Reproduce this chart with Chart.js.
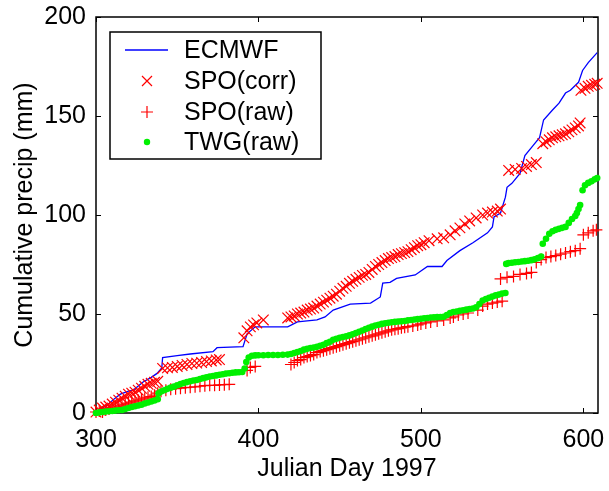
<!DOCTYPE html>
<html>
<head>
<meta charset="utf-8">
<script src="https://cdn.jsdelivr.net/npm/chart.js@4"></script>
<style>
  body { margin: 0; background: #fff; }
  canvas { display: block; }
</style>
</head>
<body>
<canvas id="grafico" width="609" height="491"></canvas>
<script>
const xTicks = [300, 400, 500, 600];
const yTicks = [0, 50, 100, 150, 200];
const seriesNames = ["ECMWF", "SPO(corr)", "SPO(raw)", "TWG(raw)"];

// [julian day, cumulative mm]
const ecmwf = [
  [300,0],[303,2],[307,4],[311,7],[315,9.5],[320,11],[323,11.6],[329,15.7],[334,18],[337.6,20],
  [340.5,22.7],[341,28],[350,29],[358,29.8],[372,31],[374.5,33],[390.5,33.5],[393,40],[398,43.5],
  [418,43.5],[424,46],[436,47],[441,48.5],[446,52],[456.5,55],[469,55.5],[475,58.6],[476.5,65.6],
  [481,66],[485,68],[496.5,69.7],[504,74],[513,74],[516,77],[524,82],[532,86],[541,91],[544,94],
  [545,99],[549,101],[552,109],[553,114],[556,116],[561,121],[564,130],[569,135],[573,139],
  [575.5,148],[581,153],[585,156.5],[589,161.6],[592,163],[597,167],[599.5,173],[603,177],[608.5,182]
];

const spoCorr = [
  [300,0.5],[302,1.5],[304,2.5],[306,3],[308,3.5],[310,4.5],[312,5.5],[314,6.5],[316,7.5],[318,8.5],
  [320,9.5],[322,10],[324,10.5],[326,11.5],[328,12.5],[330,13.5],[332,14.5],[334,15],[336,15.5],[338,16],
  [341,22.5],[344,22.8],[347,23],[350,23.5],[353,24],[356,24.5],[359,25],[362,25.2],[365,25.5],[368,26],
  [371,26.3],[374,26.8],[376,27],[391,38],[393,41.5],[395,43.5],[397,44.5],[399,45.5],[403,47],
  [418,48],[420,48.5],[422,49],[424,50],[426,50.5],[428,51],[430,52],[432,52.5],[434,53],[436,54],
  [438,55],[440,56],[442,57],[444,58],[446,59],[448,60],[450,61.5],[452,63],[454,64],[456,65.5],
  [458,66.5],[460,67.5],[462,68.5],[464,69.5],[466,70],[468,71],[470,72.5],[472,74],[474,75],[476,76],
  [478,77],[480,78],[482,78.5],[484,79],[486,80],[488,80.5],[490,81],[492,81.5],[494,82.5],[496,83.5],
  [498,84.5],[500,85],[502,86],[505,87],[510,88],[514,88.5],[518,90],[521,92],[524,93.5],[527,95.5],
  [530,97],[534,98.5],[538,100],[541,101],[544,101.5],[547,102],[549,103],[554,122.5],[558,123],
  [562,123.5],[565,124.5],[568,125.5],[571,126.5],[575,136],[577,137],[579,138],[581,139],[583,139.5],
  [585,140],[587,140.5],[589,141],[591,142],[593,143],[595,144],[597,145],[598,146.5],[598.5,163],
  [601,164],[603,165],[605,165.5],[607,166],[608.5,166.5]
];

const spoRaw = [
  [300,0.5],[302,1],[304,0.5],[306,1.5],[308,2],[310,2.5],[312,3],[314,3.5],[316,4],[318,4.5],
  [320,5],[322,5.5],[324,6],[326,6.5],[328,7],[330,7.5],[332,8],[334,8.3],[336,9],[338,10],
  [340,11],[343,11.5],[346,12],[349,12.3],[352,12.5],[355,12.8],[358,13],[361,13.2],[364,13.5],[367,13.8],
  [370,14],[373,14],[376,14.2],[379,14.3],[382,14.5],[393,21.5],[395,23],[398,23.5],[420,24.5],[422,25.5],
  [424,26.5],[426,27],[428,28],[430,28.5],[432,29],[434,29.5],[436,30.5],[438,31],[440,31.5],[442,32],
  [444,32.5],[446,33],[448,33.5],[450,34],[452,34.5],[454,35],[456,35.5],[458,36],[460,36.5],[462,37],
  [464,37.5],[466,38],[468,38.5],[470,39],[472,39.5],[474,40],[476,40.5],[478,41],[480,41.5],[482,42],
  [484,42.3],[486,42.6],[488,43],[490,43.3],[492,43.6],[495,44],[498,44.5],[500,45],[503,45.5],[506,46],
  [510,46.5],[514,47],[518,48],[520,48.5],[523,49.5],[526,50],[529,50.5],[535,52],[538,54],[541,55],
  [544,55.5],[547,56],[550,56.5],[549,67.7],[553,68.5],[557,69],[561,70],[565,70.5],[568,71],[571,76],
  [574,77.5],[577,78.5],[580,79],[583,79.5],[586,80.2],[589,80.8],[592,81.5],[595,82],[598,83],[600,90],
  [603,91],[606,92],[608,92.5]
];

const twgRaw = [
  [300,0],[302,0.3],[304,0.5],[306,0.7],[308,0.9],[310,1],[312,1.2],[314,1.4],[316,1.5],[318,2],
  [320,2.5],[322,3],[324,3.4],[326,3.8],[328,4.2],[330,4.8],[332,5.3],[334,5.8],[336,6.3],[338,7],
  [338.5,10],[340,10.8],[342,11.5],[344,12.2],[346,12.8],[348,13.3],[350,14],[352,14.6],[354,15.1],[356,15.6],
  [358,16],[360,16.4],[362,16.7],[364,17.2],[366,17.6],[368,18],[370,18.4],[372,18.7],[374,19],[376,19.3],
  [378,19.6],[380,19.9],[382,20.1],[384,20.3],[386,20.5],[388,20.6],[390,20.7],[391.5,22.5],[392.5,25.7],[394,28],
  [396,28.9],[398,29.1],[400,29.2],[403,29.2],[406,29.3],[409,29.3],[412,29.3],[415,29.4],[418,29.5],[420,29.8],
  [422,30.3],[424,30.8],[426,31.3],[428,32],[430,32.4],[432,32.8],[434,33.1],[436,33.4],[438,34],[440,34.5],
  [442,35.3],[444,36],[446,37],[448,37.5],[450,38],[452,38.4],[454,38.8],[456,39.2],[458,39.8],[460,40.4],
  [462,41],[464,41.7],[466,42.4],[468,43],[470,43.6],[472,44.2],[474,44.6],[476,45],[478,45.3],[480,45.6],
  [482,45.8],[484,46],[486,46.2],[488,46.3],[490,46.5],[492,46.8],[494,47],[496,47.2],[498,47.4],[500,47.6],
  [502,47.8],[504,48],[506,48.2],[508,48.3],[510,48.4],[512,48.5],[514,48.6],[516,49.5],[518,50.5],[520,51],
  [522,51.3],[524,51.6],[526,51.9],[528,52.2],[530,52.5],[532,52.8],[534,53.4],[536,55],[538,56.8],[540,57.6],
  [542,58.2],[544,58.8],[546,59.4],[548,59.8],[550,60.3],[552,60.6],[552.5,75.3],[554,75.7],[556,75.9],[558,76.1],
  [560,76.3],[562,76.5],[564,76.7],[566,76.9],[568,77.2],[570,77.6],[572,78.2],[574,79],[575,85.5],[577,88],
  [579,90.5],[581,91.8],[583,92.5],[585,93],[587,93.5],[589,94],[591,96],[593,98],[595,99.5],[596,101],
  [597,103],[598,105],[599.5,112.5],[601,115],[603,116.2],[605,117],[607,118],[608.5,118.7]
];

const fonte = "'Liberation Sans', Arial, Helvetica, sans-serif";
const verde = "#00f000";

function pontos(lista) {
  return lista.map(p => ({ x: p[0], y: p[1] }));
}

function semPadding(s) {
  s.paddingTop = 0;
  s.paddingBottom = 0;
  s.paddingLeft = 0;
  s.paddingRight = 0;
}

const molduraPlugin = {
  id: "moldura",
  beforeDatasetsDraw(chart) {
    const c = chart.ctx;
    const a = chart.chartArea;
    const sx = chart.scales.x;
    const sy = chart.scales.y;
    c.save();
    c.strokeStyle = "#000";
    c.lineWidth = 1.5;
    c.strokeRect(a.left, a.top, a.right - a.left, a.bottom - a.top);
    c.lineWidth = 1;
    c.beginPath();
    xTicks.forEach(v => {
      const px = Math.round(sx.getPixelForValue(v)) + 0.5;
      c.moveTo(px, a.bottom); c.lineTo(px, a.bottom - 5);
      c.moveTo(px, a.top); c.lineTo(px, a.top + 5);
    });
    yTicks.forEach(v => {
      const py = Math.round(sy.getPixelForValue(v)) + 0.5;
      c.moveTo(a.left, py); c.lineTo(a.left + 5, py);
      c.moveTo(a.right, py); c.lineTo(a.right - 5, py);
    });
    c.stroke();
    c.restore();
  },
  afterDraw(chart) {
    const c = chart.ctx;
    c.save();
    c.fillStyle = "#fff";
    c.fillRect(110, 32, 211, 127);
    c.strokeStyle = "#000";
    c.lineWidth = 1.5;
    c.strokeRect(110, 32, 211, 127);

    const linhas = [50, 81, 112, 142];
    const mx = 147;
    c.strokeStyle = "#0000ff";
    c.lineWidth = 1.3;
    c.beginPath(); c.moveTo(125, linhas[0]); c.lineTo(168, linhas[0]); c.stroke();

    c.strokeStyle = "#ff0000";
    c.lineWidth = 1.2;
    c.beginPath();
    c.moveTo(mx - 5, linhas[1] - 5); c.lineTo(mx + 5, linhas[1] + 5);
    c.moveTo(mx + 5, linhas[1] - 5); c.lineTo(mx - 5, linhas[1] + 5);
    c.moveTo(mx - 6, linhas[2]); c.lineTo(mx + 6, linhas[2]);
    c.moveTo(mx, linhas[2] - 6); c.lineTo(mx, linhas[2] + 6);
    c.stroke();

    c.fillStyle = verde;
    c.beginPath(); c.arc(mx, linhas[3], 3.2, 0, Math.PI * 2); c.fill();

    c.fillStyle = "#000";
    c.font = "25px " + fonte;
    c.textBaseline = "middle";
    c.textAlign = "left";
    seriesNames.forEach((n, i) => c.fillText(n, 184, linhas[i] + 1));
    c.restore();
  }
};

new Chart(document.getElementById("grafico").getContext("2d"), {
  type: "scatter",
  data: {
    datasets: [
      {
        label: seriesNames[3], data: pontos(twgRaw), order: 0, clip: false,
        pointStyle: "circle", pointRadius: 3.3, pointBorderWidth: 0,
        backgroundColor: verde, borderColor: verde
      },
      {
        label: seriesNames[2], data: pontos(spoRaw), order: 1, clip: false,
        pointStyle: "cross", pointRadius: 6, pointBorderWidth: 1.2,
        borderColor: "#ff0000", backgroundColor: "#ff0000"
      },
      {
        label: seriesNames[1], data: pontos(spoCorr), order: 2, clip: false,
        pointStyle: "crossRot", pointRadius: 7.5, pointBorderWidth: 1.2,
        borderColor: "#ff0000", backgroundColor: "#ff0000"
      },
      {
        label: seriesNames[0], data: pontos(ecmwf), order: 3, showLine: true,
        pointRadius: 0, borderWidth: 1.3, borderColor: "#0000ff", tension: 0
      }
    ]
  },
  options: {
    responsive: false,
    animation: false,
    events: [],
    layout: { padding: { top: 17, right: 11, left: 0, bottom: 0 } },
    plugins: { legend: { display: false }, tooltip: { enabled: false } },
    scales: {
      x: {
        type: "linear", min: 300, max: 609,
        afterBuildTicks: s => { s.ticks = xTicks.map(v => ({ value: v })); },
        afterFit: s => { s.height = 78; semPadding(s); },
        grid: { display: false, drawTicks: false },
        border: { display: false },
        ticks: { color: "#000", padding: 12, maxRotation: 0, font: { size: 25, family: fonte } },
        title: { display: true, text: "Julian Day 1997", color: "#000", padding: { top: 0, bottom: 7 }, font: { size: 25, family: fonte } }
      },
      y: {
        type: "linear", min: 0, max: 200,
        afterBuildTicks: s => { s.ticks = yTicks.map(v => ({ value: v })); },
        afterFit: s => { s.width = 96; semPadding(s); },
        grid: { display: false, drawTicks: false },
        border: { display: false },
        ticks: { color: "#000", padding: 10, font: { size: 25, family: fonte } },
        title: { display: true, text: "Cumulative precip (mm)", color: "#000", padding: { top: 10, bottom: 0 }, font: { size: 25, family: fonte } }
      }
    }
  },
  plugins: [molduraPlugin]
});
</script>
</body>
</html>
